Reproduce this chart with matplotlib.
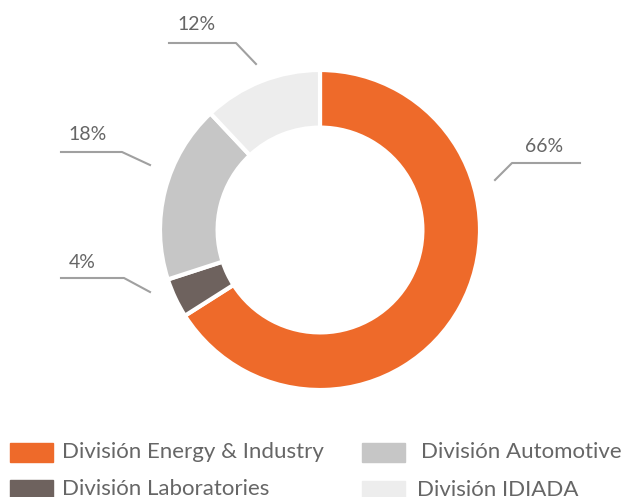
import matplotlib
matplotlib.use("Agg")
import matplotlib.pyplot as plt
from matplotlib.patches import Rectangle

# datos del gráfico
divisiones = ["División Energy & Industry", "División Laboratories",
              "División Automotive", "División IDIADA"]
porcentajes = [66, 4, 18, 12]
etiquetas = ["66%", "4%", "18%", "12%"]
colores = ["#EE6A2A", "#6E625E", "#C6C6C6", "#EDEDED"]

W, H = 623, 497
TXT = "#666666"
LINEA = "#a0a0a0"
plt.rcParams["font.family"] = ["Lato", "DejaVu Sans"]

fig = plt.figure(figsize=(W / 100, H / 100), dpi=100)

# donut: centro (320, 230) px, radio 160 px
cx, cy, r = 320, 230, 160
ax = fig.add_axes([(cx - r) / W, (H - cy - r) / H, 2 * r / W, 2 * r / H])
ax.pie(porcentajes, colors=colores, startangle=90, counterclock=False,
       radius=1, wedgeprops=dict(width=0.36, edgecolor="white", linewidth=3))
ax.set_xlim(-1, 1)
ax.set_ylim(-1, 1)
ax.set_aspect("equal")
ax.axis("off")


def px(x, y):
    return (x - cx) / r, (cy - y) / r


# líneas guía (en píxeles de la imagen) y posición de cada etiqueta
guias = {
    "66%": ([(495, 180), (512, 163), (580, 163)], (544, 147)),
    "4%": ([(150, 292), (124, 278), (61, 278)], (82, 263)),
    "18%": ([(150, 165), (122, 152), (61, 152)], (88, 134)),
    "12%": ([(256, 64), (236, 43), (169, 43)], (197, 25)),
}
for et in etiquetas:
    pts, (tx, ty) = guias[et]
    xs, ys = zip(*[px(a, b) for a, b in pts])
    ax.plot(xs, ys, color=LINEA, lw=1.5, clip_on=False)
    ax.text(*px(tx, ty), et, ha="center", va="center", fontsize=14,
            color=TXT)

# leyenda manual en dos columnas (x caja, y caja, x texto, índice)
ley = [(10, 443, 62, 0), (10, 480, 62, 1), (362, 443, 421, 2), (362, 481, 417, 3)]
for x0, y0, xt, i in ley:
    fig.add_artist(Rectangle((x0 / W, 1 - (y0 + 19) / H), 43 / W, 19 / H,
                             transform=fig.transFigure, color=colores[i]))
    fig.text(xt / W, 1 - (y0 + 9) / H, divisiones[i], fontsize=16,
             color=TXT, va="center", ha="left")

fig.savefig("out.png", dpi=100)
